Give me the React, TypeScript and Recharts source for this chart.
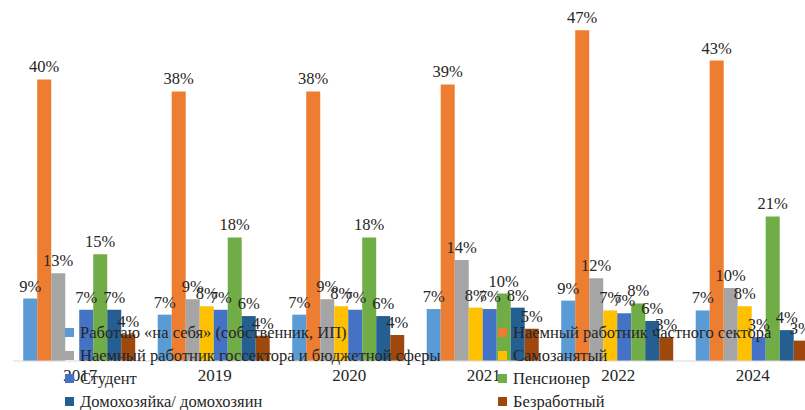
import { BarChart, Bar, XAxis, YAxis, LabelList, Legend } from "recharts";

const years = ["2017", "2019", "2020", "2021", "2022", "2024"];

const selfEmployed = [8.9, 6.6, 6.6, 7.4, 8.6, 7.2];
const privateSector = [40.1, 38.4, 38.4, 39.4, 47.1, 42.8];
const publicSector = [12.5, 8.8, 8.8, 14.4, 11.8, 10.4];
const gigWorker = [null, 7.8, 7.8, 7.6, 7.2, 7.8];
const student = [7.3, 7.3, 7.3, 7.4, 6.8, 3.4];
const pensioner = [15.2, 17.6, 17.6, 9.6, 8.2, 20.6];
const homemaker = [7.3, 6.4, 6.4, 7.6, 5.7, 4.4];
const unemployed = [3.8, 3.6, 3.7, 4.6, 3.4, 2.9];

const series = [
  { key: "selfEmployed", name: "Работаю «на себя» (собственник, ИП)", color: "#5B9BD5", values: selfEmployed },
  { key: "privateSector", name: "Наемный работник частного сектора", color: "#ED7D31", values: privateSector },
  { key: "publicSector", name: "Наемный работник госсектора и бюджетной сферы", color: "#A5A5A5", values: publicSector },
  { key: "gigWorker", name: "Самозанятый", color: "#FFC000", values: gigWorker },
  { key: "student", name: "Студент", color: "#4472C4", values: student },
  { key: "pensioner", name: "Пенсионер", color: "#70AD47", values: pensioner },
  { key: "homemaker", name: "Домохозяйка/ домохозяин", color: "#255E91", values: homemaker },
  { key: "unemployed", name: "Безработный", color: "#9E480E", values: unemployed },
];

const data = years.map((year, i) => {
  const row: Record<string, string | number | null> = { year };
  series.forEach((s) => {
    row[s.key] = s.values[i];
  });
  return row;
});

const font = "'Liberation Serif', 'Times New Roman', serif";

const formatPct = (v: any) => (v === null || v === undefined ? "" : `${Math.round(Number(v))}%`);

// legend keeps the series order (2 columns, row by row)
const renderLegend = () => (
  <div
    style={{
      display: "grid",
      gridTemplateColumns: "433px auto",
      fontFamily: font,
      fontSize: 16.5,
      color: "#262626",
    }}
  >
    {series.map((s) => (
      <div key={s.key} style={{ display: "flex", alignItems: "center", height: 23, whiteSpace: "nowrap" }}>
        <span style={{ width: 9, height: 9, background: s.color, marginRight: 6, flex: "none" }} />
        <span>{s.name}</span>
      </div>
    ))}
  </div>
);

export default function App() {
  return (
    <div
      style={{
        position: "fixed",
        left: 0,
        top: 0,
        width: 805,
        height: 410,
        overflow: "hidden",
        background: "#fff",
        fontFamily: font,
      }}
    >
      <BarChart
        width={830}
        height={410}
        data={data}
        margin={{ top: 10, right: 10, bottom: 19, left: 13 }}
        barCategoryGap="7.6%"
        barGap={0}
      >
        <XAxis
          dataKey="year"
          height={30}
          tickLine={false}
          axisLine={{ stroke: "#d9d9d9" }}
          tick={{ fill: "#262626", fontFamily: font, fontSize: 17 }}
        />
        <YAxis hide domain={[0, 50]} />
        {series.map((s) => (
          <Bar key={s.key} dataKey={s.key} name={s.name} fill={s.color} isAnimationActive={false}>
            <LabelList
              dataKey={s.key}
              position="top"
              offset={7}
              formatter={formatPct}
              fill="#262626"
              fontFamily={font}
              fontSize={16.5}
            />
          </Bar>
        ))}
        <Legend
          layout="horizontal"
          verticalAlign="middle"
          align="center"
          content={renderLegend}
          wrapperStyle={{ left: 65, top: 321, width: 740, height: 92 }}
        />
      </BarChart>
    </div>
  );
}
